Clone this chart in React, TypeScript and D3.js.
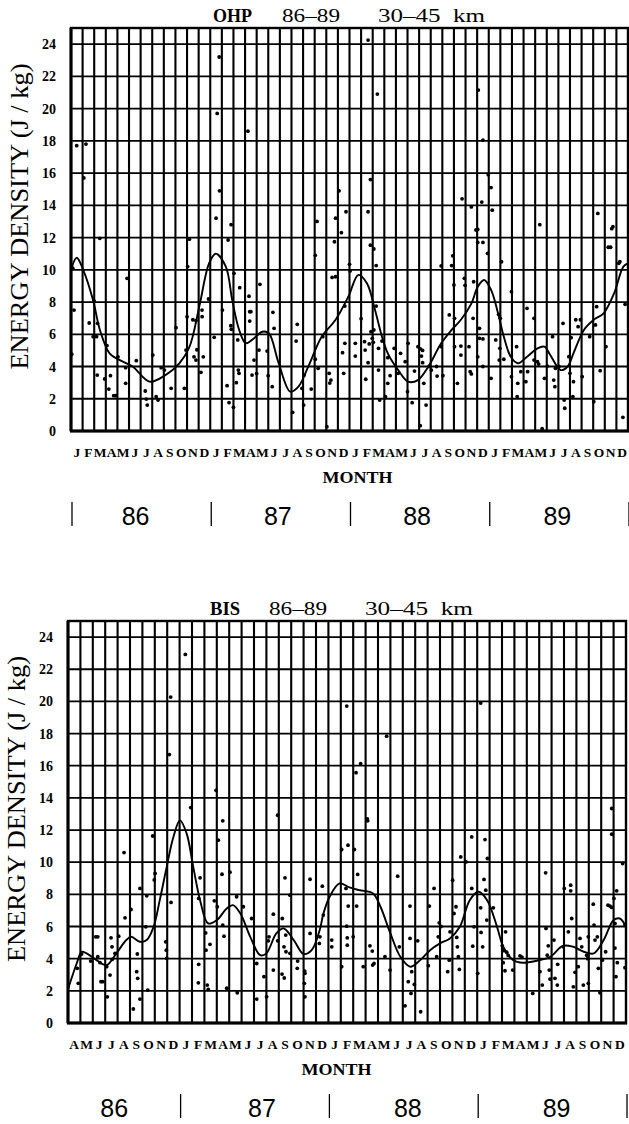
import React from "react";
import * as d3 from "d3";

type P = [number, number];

// y axis ticks (J/kg) and month/year labels
const yTicks = [0, 2, 4, 6, 8, 10, 12, 14, 16, 18, 20, 22, 24];
const yMax = 25;
const monthInitials = ["J", "F", "M", "A", "M", "J", "J", "A", "S", "O", "N", "D"];
const yearLabels = ["86", "87", "88", "89"];
const lastMonth = 48; // months counted from Jan 1986
const ohpFirstMonth = 0;
const bisFirstMonth = 3;

// OHP smoothed curve [month since Jan 86, J/kg]
const ohpCurve: P[] = [
  [0, 10.0], [0.49, 10.75], [1.05, 10.0], [1.91, 8.1], [2.48, 6.3], [3.34, 4.8], [4.2, 4.4],
  [5.31, 4.0], [6.77, 3.06], [8.2, 3.5], [9.34, 4.2], [10.2, 5.2], [11.05, 7.7], [11.9, 10.4],
  [12.48, 11.0], [13.34, 10.2], [13.9, 8.1], [14.48, 6.3], [15.05, 5.45], [15.6, 5.65],
  [16.48, 6.16], [17.05, 6.06], [17.9, 4.2], [18.9, 2.44], [19.6, 2.75], [20.48, 4.05],
  [21.6, 5.85], [22.8, 6.9], [23.9, 8.33], [24.76, 9.68], [25.5, 9.16], [26.2, 7.5],
  [26.8, 5.85], [27.3, 4.82], [28.2, 3.78], [29.05, 3.06], [29.9, 3.16], [30.8, 4.0],
  [31.9, 5.44], [32.8, 6.27], [33.6, 6.9], [34.5, 7.9], [35.05, 8.95], [35.6, 9.37],
  [36.2, 8.75], [36.8, 7.3], [37.3, 5.85], [37.9, 4.6], [38.5, 4.2], [39.3, 4.6], [40.2, 5.13],
  [40.8, 5.23], [41.3, 4.71], [42.2, 3.78], [42.8, 4.0], [43.3, 4.82], [44.2, 6.27],
  [45.05, 6.9], [45.9, 7.3], [46.8, 8.54], [47.6, 10.2], [48, 10.4],
];

// OHP individual measurements
const ohpDots: P[] = [
  [0.49, 17.7], [1.29, 17.8], [1.11, 15.7], [12.77, 23.2], [12.6, 19.7], [12.8, 14.9], [12.5, 13.2],
  [13.8, 12.8], [15.25, 18.6], [21.2, 13.0],
  [25.6, 24.25], [26.4, 20.9], [35.1, 21.15], [35.5, 18.05], [35.96, 15.9], [36.2, 15.1], [33.7, 14.4],
  [34.5, 13.9], [35.4, 14.2], [36.3, 13.7], [35.05, 12.5], [23.1, 14.9], [25.8, 15.6], [22.8, 13.2],
  [23.7, 13.6], [23.3, 12.3], [25.6, 13.6], [40.4, 12.8], [45.4, 13.5], [46.6, 12.55],
  [0.06, 4.76], [0.26, 7.5], [0.15, 10.1], [2.48, 11.95], [1.57, 6.7], [1.91, 5.85], [2.2, 5.85],
  [2.0, 8.06], [2.26, 3.47], [2.29, 6.68], [3.1, 5.3], [3.4, 3.43], [2.9, 3.23], [3.26, 2.6],
  [3.68, 2.19], [3.86, 2.19], [4.05, 4.6], [4.71, 3.93], [4.83, 9.47], [4.71, 2.96], [5.63, 4.36],
  [6.4, 2.48], [6.49, 1.98], [6.57, 1.61], [7.05, 4.71], [7.34, 2.13], [7.5, 1.92], [7.77, 3.93],
  [8.05, 3.78], [8.63, 2.65], [9.05, 6.41], [9.77, 2.65], [9.91, 5.02], [10.0, 7.09], [10.05, 10.2],
  [10.2, 11.9], [10.5, 6.9], [10.77, 6.84], [10.6, 4.6], [10.77, 4.4], [10.85, 5.04], [11.2, 3.64],
  [11.29, 7.5], [11.3, 7.09], [11.4, 4.6], [11.85, 8.19], [12.34, 5.81], [13.05, 7.5], [13.45, 2.81],
  [13.62, 1.76], [13.77, 6.53], [13.82, 6.31], [13.54, 11.85], [14.05, 9.78], [14.0, 1.47],
  [14.37, 5.65], [14.42, 3.78], [14.48, 3.58], [14.25, 3.0], [14.54, 8.89], [15.34, 8.36],
  [15.4, 7.4], [15.5, 7.4], [15.4, 6.82], [15.6, 3.47], [15.77, 4.4], [16.0, 3.56], [16.2, 5.02],
  [16.28, 9.1], [16.9, 4.96], [16.99, 3.43], [17.34, 2.75], [17.4, 7.36], [17.5, 6.37], [19.1, 1.16],
  [19.4, 5.58], [19.5, 6.62], [19.9, 2.65], [20.05, 1.61], [20.1, 3.47], [20.7, 2.6], [21.05, 4.45],
  [21.05, 10.9],
  [21.3, 3.89], [21.7, 5.85], [22.05, 0.27], [22.25, 3.58], [22.3, 2.97], [22.4, 3.16], [22.7, 11.74],
  [22.5, 9.53], [22.8, 9.57], [23.6, 7.75], [23.5, 3.58], [23.6, 5.44], [23.4, 4.86], [24.0, 10.34],
  [24.05, 9.93], [24.5, 5.44], [24.5, 4.65], [25.0, 6.97], [25.3, 5.54], [25.35, 5.02], [25.4, 3.21],
  [25.6, 4.24], [25.8, 11.53], [26.1, 11.29], [26.3, 10.26], [25.85, 6.16], [25.96, 5.75],
  [26.1, 6.27], [25.7, 5.4], [26.05, 5.5], [26.3, 7.75], [26.5, 5.13], [26.5, 3.78], [26.6, 1.92],
  [26.8, 5.58], [27.1, 2.13], [27.3, 4.55], [27.3, 2.96], [27.5, 3.43], [27.85, 5.13], [28.2, 3.58],
  [28.4, 4.82], [28.8, 4.3], [29.05, 5.44], [29.0, 2.44], [29.4, 1.76], [29.6, 3.72], [29.9, 5.23],
  [30.1, 5.1], [30.3, 5.0], [30.2, 4.65], [30.3, 4.24], [30.1, 0.33], [30.4, 2.96], [30.6, 1.61],
  [30.85, 4.0], [31.05, 3.78], [31.5, 4.0], [31.55, 3.41], [31.9, 5.23], [32.05, 3.43], [31.9, 10.24],
  [32.8, 10.26], [32.9, 10.87], [33.0, 9.06], [33.05, 6.99], [32.6, 7.2], [33.05, 5.23], [33.3, 2.96],
  [33.6, 5.27], [33.6, 4.71], [33.9, 9.47], [33.96, 9.04], [34.3, 5.23], [34.4, 3.68], [34.5, 3.54],
  [34.7, 9.26], [34.65, 6.99], [34.9, 12.47], [35.05, 11.7], [35.5, 11.7], [35.05, 4.6], [35.2, 5.75],
  [35.5, 5.71], [35.2, 6.37], [35.5, 4.0], [35.9, 11.02], [36.2, 3.27], [36.6, 5.65], [36.85, 7.24],
  [37.1, 10.5], [36.96, 5.13], [37.0, 6.99], [36.9, 4.4], [37.3, 4.45], [37.96, 8.64], [37.96, 3.37],
  [38.4, 5.23], [38.5, 2.96], [38.45, 2.13], [38.76, 3.68], [39.2, 3.06], [39.3, 7.61], [39.35, 3.68],
  [39.9, 4.4], [39.9, 6.99], [40.2, 4.3], [40.3, 4.15], [40.6, 0.14], [40.8, 3.27], [41.05, 4.03],
  [41.5, 5.85], [41.6, 3.16], [41.7, 2.75], [41.75, 3.89], [42.05, 4.0], [42.4, 6.68], [42.5, 1.92],
  [42.55, 1.41], [42.9, 4.61], [43.0, 3.58], [43.1, 5.79], [43.25, 2.13], [43.3, 3.06], [43.5, 6.9],
  [43.7, 6.47], [43.9, 6.9], [44.05, 3.37], [44.7, 5.85], [45.05, 1.82], [45.2, 6.58], [45.3, 7.71],
  [45.6, 3.74], [46.1, 5.23], [46.3, 11.4], [46.5, 11.4], [46.7, 12.67], [47.2, 10.4], [47.3, 10.5],
  [47.75, 7.86], [47.56, 0.85],
];

// BIS smoothed curve
const bisCurve: P[] = [
  [3.0, 2.1], [3.7, 3.7], [4.1, 4.43], [4.5, 4.33], [5.3, 3.91], [6.1, 3.6], [6.9, 4.33], [7.7, 5.16],
  [8.1, 5.36], [8.8, 5.05], [9.35, 5.16], [9.9, 5.98], [10.4, 7.64], [10.96, 9.71], [11.5, 11.57],
  [12.03, 12.6], [12.57, 11.78], [13.1, 9.71], [13.65, 7.64], [14.3, 6.19], [15.0, 6.4], [15.8, 7.12],
  [16.3, 7.33], [16.9, 6.81], [17.7, 5.36], [18.5, 4.22], [19.0, 4.33], [19.8, 5.57], [20.4, 5.88],
  [21.2, 5.16], [22.0, 4.29], [22.65, 4.53], [23.3, 5.78], [23.6, 6.81], [24.1, 7.85], [24.9, 8.68],
  [25.7, 8.43], [26.5, 8.26], [27.6, 8.06], [28.2, 7.23], [29.0, 5.57], [29.8, 4.12], [30.6, 3.5],
  [31.4, 3.91], [32.2, 4.53], [33.0, 4.95], [33.8, 5.26], [34.6, 5.98], [35.4, 7.64], [36.1, 8.16],
  [36.8, 7.64], [37.6, 5.98], [38.1, 4.74], [38.9, 3.91], [39.7, 3.75], [40.8, 3.87], [41.9, 4.12],
  [42.9, 4.8], [43.75, 4.74], [44.6, 4.43], [45.4, 4.33], [46.2, 5.16], [47.0, 6.4], [47.5, 6.5],
  [48.0, 5.98],
];

// BIS individual measurements
const bisDots: P[] = [
  [12.46, 22.92], [11.28, 20.27], [11.17, 16.69], [14.94, 14.47], [12.9, 13.4], [25.48, 19.71],
  [28.7, 17.84], [26.6, 16.13], [26.23, 15.57], [36.28, 19.9], [46.85, 13.34], [27.14, 12.7],
  [3.75, 3.4], [3.83, 2.47], [4.1, 4.29], [4.83, 3.85], [5.23, 5.36], [5.4, 5.36], [5.4, 4.12],
  [5.58, 3.75], [5.66, 2.57], [5.8, 2.57], [6.12, 3.5], [6.17, 1.63], [6.39, 2.98], [6.47, 5.3],
  [6.55, 4.74], [6.57, 3.96], [6.79, 4.33], [7.09, 5.4], [7.52, 10.6], [7.6, 6.54], [8.08, 7.06],
  [8.27, 0.87], [8.54, 3.19], [8.62, 2.78], [8.59, 4.29], [8.8, 8.37], [8.8, 1.49], [9.35, 7.91],
  [9.27, 5.98], [9.43, 2.05], [9.83, 11.63], [10.02, 9.3], [9.96, 8.9], [10.88, 5.05], [10.93, 4.53],
  [10.96, 4.02], [11.31, 7.5], [13.65, 9.03], [13.54, 7.75], [13.54, 3.65], [13.51, 2.5], [14.1, 5.6],
  [14.45, 4.89], [14.13, 4.53], [14.23, 2.36], [14.31, 2.09], [14.8, 7.6], [15.04, 7.23],
  [15.12, 11.37], [15.48, 12.57], [15.42, 9.25], [15.48, 6.09], [15.58, 5.4], [15.8, 2.16],
  [16.06, 9.38], [16.6, 7.85], [16.65, 1.88], [17.14, 7.23], [17.81, 6.5], [18.22, 3.7], [18.22, 1.49],
  [18.8, 2.88], [19.02, 1.63], [19.21, 5.36], [19.15, 5.11], [19.56, 6.77], [19.56, 3.29],
  [19.91, 12.92], [19.91, 5.11], [20.26, 3.04], [20.28, 6.5], [20.42, 4.74], [20.44, 2.8], [20.5, 9.03],
  [20.56, 5.47], [20.58, 4.43], [20.9, 4.33], [20.9, 7.95], [21.52, 3.85], [21.49, 3.4], [22.09, 3.23],
  [22.11, 3.09], [22.06, 2.47], [22.11, 1.63], [22.52, 8.94], [22.52, 5.57], [23.27, 4.95],
  [23.32, 5.36], [23.51, 8.51], [23.59, 6.71], [24.27, 5.16], [24.27, 4.74], [25.07, 3.5],
  [25.07, 10.79], [25.42, 8.37], [25.48, 6.02], [25.52, 5.3], [25.52, 4.84], [25.58, 11.06],
  [25.6, 7.27], [26.0, 5.36], [26.09, 10.79], [26.28, 7.27], [26.36, 9.24], [26.81, 3.5],
  [27.17, 12.57], [27.35, 4.8], [27.54, 4.47], [27.57, 3.6], [27.68, 3.7], [28.56, 4.12], [28.97, 3.29],
  [29.59, 9.13], [29.72, 4.74], [30.18, 1.07], [30.44, 2.57], [30.58, 7.27], [30.58, 5.26],
  [30.72, 3.19], [30.66, 1.84], [30.93, 2.4], [31.2, 5.11], [31.44, 0.7], [32.06, 3.56], [32.14, 7.27],
  [32.52, 8.37], [32.73, 4.12], [32.86, 5.36], [32.94, 6.23], [33.08, 6.0], [33.62, 3.19],
  [33.75, 3.91], [33.81, 5.67], [34.02, 8.88], [34.13, 6.81], [34.29, 7.23], [34.35, 5.32],
  [34.4, 4.74], [34.48, 4.12], [34.56, 3.33], [34.67, 10.33], [35.1, 10.02], [35.56, 11.57],
  [35.56, 8.37], [35.64, 4.78], [35.74, 5.98], [36.04, 3.09], [36.28, 7.16], [36.31, 5.63],
  [36.44, 4.74], [36.55, 8.93], [36.63, 11.41], [36.69, 8.26], [36.77, 6.4], [36.82, 10.23],
  [37.3, 7.16], [38.02, 4.8], [38.16, 4.5], [38.38, 4.4], [38.5, 4.2], [38.29, 5.67], [38.1, 3.75],
  [38.24, 3.25], [38.86, 3.29], [39.45, 4.18], [39.61, 4.1], [40.48, 1.84], [41.06, 3.19],
  [41.25, 2.36], [41.52, 9.34], [41.55, 5.88], [41.65, 4.22], [41.73, 4.8], [41.81, 3.29],
  [41.87, 2.73], [42.19, 5.16], [42.27, 2.78], [42.46, 2.36], [42.49, 3.65], [43.02, 8.37],
  [43.54, 8.57], [43.54, 8.22], [43.62, 6.5], [43.35, 5.67], [42.94, 4.74], [43.75, 2.25],
  [43.89, 3.15], [44.15, 3.5], [44.29, 5.26], [44.43, 4.74], [44.56, 2.36], [44.83, 4.22],
  [44.91, 4.0], [44.96, 5.36], [44.96, 2.47], [45.36, 7.39], [45.42, 6.09], [45.5, 5.16],
  [45.69, 5.36], [45.77, 3.4], [45.9, 1.88], [46.09, 3.91], [46.36, 4.43], [46.55, 7.33],
  [46.71, 7.27], [46.85, 7.19], [46.85, 11.74], [47.03, 7.75], [47.11, 6.19], [47.25, 8.22],
  [47.11, 4.66], [47.19, 2.88], [47.3, 3.75], [47.73, 9.92], [47.92, 6.09], [47.92, 3.44],
];

const SERIF = "'Liberation Serif', 'Times New Roman', serif";
const SANS = "'Liberation Sans', Arial, sans-serif";

interface PanelProps {
  station: string;
  firstMonth: number;
  curve: P[];
  dots: P[];
  left: number;
  right: number;
  top: number;
  bottom: number;
  titleX: [number, number, number];
  titleW: [number, number, number];
  sepMonths: number[];
  yearDx: number[];
}

function Panel(p: PanelProps) {
  const x = d3.scaleLinear().domain([p.firstMonth, lastMonth]).range([p.left, p.right]);
  const y = d3.scaleLinear().domain([0, yMax]).range([p.bottom, p.top]);
  const line = d3
    .line<P>()
    .x((d) => x(d[0]))
    .y((d) => y(d[1]))
    .curve(d3.curveCatmullRom.alpha(0.5));
  const months = d3.range(p.firstMonth, lastMonth);
  const titleY = p.top - 6;
  const yTitleCenter = (p.top + p.bottom) / 2 - 13;
  const clipId = `clip-${p.station}`;
  return (
    <g>
      <defs>
        <clipPath id={clipId}>
          <rect x={p.left} y={p.top} width={p.right - p.left} height={p.bottom - p.top} />
        </clipPath>
      </defs>
      {/* title */}
      <text x={p.titleX[0]} y={titleY} fontFamily={SERIF} fontWeight="bold" fontSize={18}
        textLength={p.titleW[0]} lengthAdjust="spacingAndGlyphs">{p.station}</text>
      <text x={p.titleX[1]} y={titleY} fontFamily={SERIF} fontSize={18}
        textLength={p.titleW[1]} lengthAdjust="spacingAndGlyphs">86–89</text>
      <text x={p.titleX[2]} y={titleY} fontFamily={SERIF} fontSize={18}
        textLength={p.titleW[2]} lengthAdjust="spacingAndGlyphs" style={{ whiteSpace: "pre" }}>30–45  km</text>
      {/* horizontal grid */}
      {yTicks.filter((t) => t > 0).map((t) => (
        <line key={`h${t}`} x1={p.left} x2={p.right} y1={y(t)} y2={y(t)} stroke="#000" strokeWidth={1.8} />
      ))}
      {/* vertical grid */}
      {months.slice(1).map((m) => (
        <line key={`v${m}`} x1={x(m)} x2={x(m)} y1={p.top} y2={p.bottom} stroke="#000" strokeWidth={2.1} />
      ))}
      <rect x={p.left} y={p.top} width={p.right - p.left} height={p.bottom - p.top} fill="none"
        stroke="#000" strokeWidth={2.4} />
      <line x1={p.left - 1} x2={p.right + 1} y1={p.bottom} y2={p.bottom} stroke="#000" strokeWidth={3} />
      <line x1={p.left} x2={p.left} y1={p.top} y2={p.bottom} stroke="#000" strokeWidth={3} />
      {/* y tick labels */}
      {yTicks.map((t) => (
        <text key={`t${t}`} x={p.left - 15} y={y(t) + 5} textAnchor="end" fontFamily={SERIF}
          fontWeight="bold" fontSize={14}>{t}</text>
      ))}
      {/* y title */}
      <text transform={`translate(${p.left - 43},${yTitleCenter}) rotate(-90)`} textAnchor="middle"
        fontFamily={SERIF} fontSize={25} textLength={306} lengthAdjust="spacingAndGlyphs">
        ENERGY DENSITY (J / kg)
      </text>
      {/* data */}
      <g clipPath={`url(#${clipId})`}>
        {p.dots.map((d, i) => (
          <circle key={`d${i}`} cx={x(d[0])} cy={y(d[1])} r={1.9} fill="#000" />
        ))}
        <path d={line(p.curve) || ""} fill="none" stroke="#000" strokeWidth={1.9} />
      </g>
      {/* month letters */}
      {months.map((m) => (
        <text key={`m${m}`} x={x(m + 0.5)} y={p.bottom + 26} textAnchor="middle" fontFamily={SERIF}
          fontWeight="bold" fontSize={13.5}>{monthInitials[m % 12]}</text>
      ))}
      <text x={x(24) + 8} y={p.bottom + 52} textAnchor="middle" fontFamily={SERIF} fontWeight="bold"
        fontSize={17} textLength={70} lengthAdjust="spacingAndGlyphs">MONTH</text>
      {/* year separators */}
      {p.sepMonths.map((m) => (
        <line key={`s${m}`} x1={x(m) + 1} x2={x(m) + 1} y1={p.bottom + 71} y2={p.bottom + 95}
          stroke="#000" strokeWidth={1.3} />
      ))}
      {yearLabels.map((yl, i) => (
        <text key={`y${yl}`} x={x(6 + 12 * i) + p.yearDx[i]} y={p.bottom + 94} textAnchor="middle"
          fontFamily={SANS} fontSize={25}>{yl}</text>
      ))}
    </g>
  );
}

export default function App() {
  return (
    <svg width={629} height={1124} style={{ position: "absolute", left: 0, top: 0, background: "#fff" }}>
      <rect x={0} y={0} width={629} height={1124} fill="#fff" />
      <Panel station="OHP" firstMonth={ohpFirstMonth} curve={ohpCurve} dots={ohpDots}
        left={71} right={628} top={28} bottom={431}
        titleX={[213, 282, 378]} titleW={[39, 58, 107]}
        sepMonths={[0, 12, 24, 36, 48]} yearDx={[-5, -2, -2, -1]} />
      <Panel station="BIS" firstMonth={bisFirstMonth} curve={bisCurve} dots={bisDots}
        left={68} right={626} top={621} bottom={1023}
        titleX={[210, 269, 365]} titleW={[30, 58, 108]}
        sepMonths={[12, 24, 36, 48]} yearDx={[9, 8, 5, 5]} />
    </svg>
  );
}
